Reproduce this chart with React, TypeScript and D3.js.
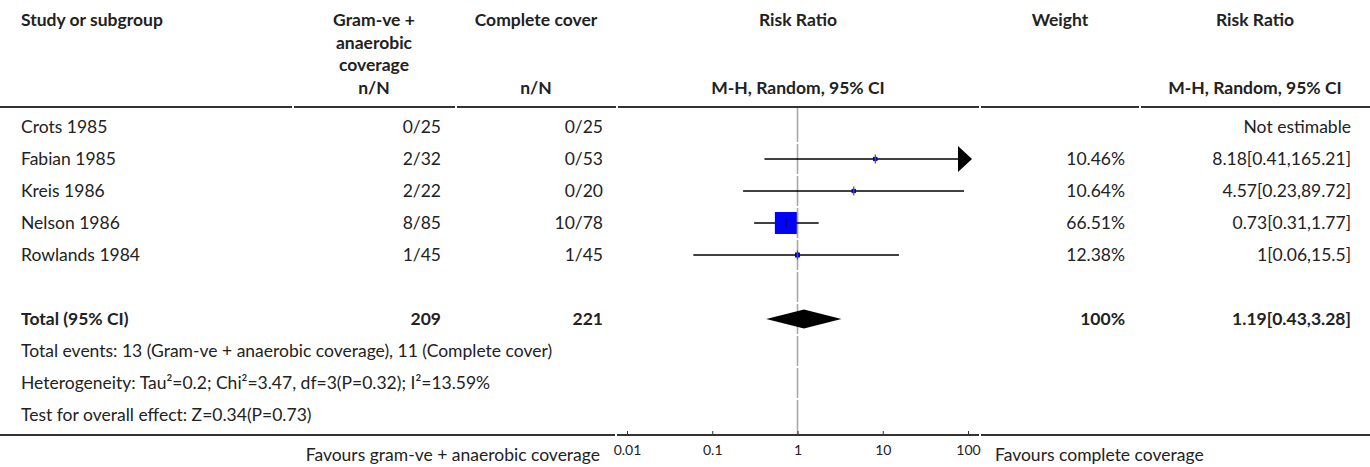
import React, { useEffect, useRef } from 'react';
import * as d3 from 'd3';

// study rows
const studies = ['Crots 1985', 'Fabian 1985', 'Kreis 1986', 'Nelson 1986', 'Rowlands 1984'];
const gramEvents = ['0/25', '2/32', '2/22', '8/85', '1/45'];
const completeEvents = ['0/25', '0/53', '0/20', '10/78', '1/45'];
const riskRatio: (number | null)[] = [null, 8.18, 4.57, 0.73, 1];
const ciLower: (number | null)[] = [null, 0.41, 0.23, 0.31, 0.06];
const ciUpper: (number | null)[] = [null, 165.21, 89.72, 1.77, 15.5];
const weights: (number | null)[] = [null, 10.46, 10.64, 66.51, 12.38];
const rrLabels = ['Not estimable', '8.18[0.41,165.21]', '4.57[0.23,89.72]', '0.73[0.31,1.77]', '1[0.06,15.5]'];

// pooled result
const totalCounts = ['209', '221'];
const totalEffect = [1.19, 0.43, 3.28]; // estimate, lower, upper
const totalWeight = '100%';
const totalLabel = '1.19[0.43,3.28]';

const footnotes = [
  'Total events: 13 (Gram-ve + anaerobic coverage), 11 (Complete cover)',
  'Heterogeneity: Tau²=0.2; Chi²=3.47, df=3(P=0.32); I²=13.59%',
  'Test for overall effect: Z=0.34(P=0.73)',
];

const axisTicks = [0.01, 0.1, 1, 10, 100];
const favourLeft = 'Favours gram-ve + anaerobic coverage';
const favourRight = 'Favours complete coverage';

const FONT = 'Lato, "Noto Sans", sans-serif';

const App: React.FC = () => {
  const svgRef = useRef<SVGSVGElement | null>(null);

  useEffect(() => {
    document.body.style.margin = '0';
    const svg = d3.select(svgRef.current);
    svg.selectAll('*').remove();

    const rowY = (i: number) => 127 + 32 * i;
    const x = d3.scaleLog().domain([0.01, 100]).range([627, 968]);
    const ink = '#222';
    const left = 21;
    const gramRight = 441;
    const compRight = 603;
    const weightRight = 1125;
    const rrRight = 1351;

    const g = svg.append('g').attr('font-family', FONT).attr('font-size', 17.5).attr('fill', ink);

    // header
    const header = g.append('g').attr('font-weight', 'bold');
    header.append('text').attr('x', left).attr('y', 26).text('Study or subgroup');
    ['Gram-ve +', 'anaerobic', 'coverage'].forEach((t, i) => {
      header.append('text').attr('x', 374).attr('y', 26 + 22.5 * i).attr('text-anchor', 'middle').text(t);
    });
    header.append('text').attr('x', 374).attr('y', 94).attr('text-anchor', 'middle').text('n/N');
    header.append('text').attr('x', 536).attr('y', 26).attr('text-anchor', 'middle').text('Complete cover');
    header.append('text').attr('x', 536).attr('y', 94).attr('text-anchor', 'middle').text('n/N');
    header.append('text').attr('x', 798).attr('y', 26).attr('text-anchor', 'middle').text('Risk Ratio');
    header.append('text').attr('x', 798).attr('y', 94).attr('text-anchor', 'middle').text('M-H, Random, 95% CI');
    header.append('text').attr('x', 1060).attr('y', 26).attr('text-anchor', 'middle').text('Weight');
    header.append('text').attr('x', 1255).attr('y', 26).attr('text-anchor', 'middle').text('Risk Ratio');
    header.append('text').attr('x', 1255).attr('y', 94).attr('text-anchor', 'middle').text('M-H, Random, 95% CI');

    const segs = [[0, 292], [294, 455], [457, 616], [618, 979], [981, 1139], [1141, 1370]];
    g.selectAll('.hline')
      .data(segs)
      .enter().append('line')
      .attr('x1', d => d[0]).attr('x2', d => d[1])
      .attr('y1', 107).attr('y2', 107)
      .attr('stroke', '#333').attr('stroke-width', 2);

    // line of no effect, broken at each row
    const nRows = 10;
    g.selectAll('.null')
      .data(d3.range(nRows))
      .enter().append('line')
      .attr('x1', x(1)).attr('x2', x(1))
      .attr('y1', i => (i === 0 ? 108 : rowY(i) - 15))
      .attr('y2', i => (i === nRows - 1 ? 434 : rowY(i) + 15))
      .attr('stroke', '#a8a8a8').attr('stroke-width', 1.6);

    // study rows
    studies.forEach((s, i) => {
      const y = rowY(i);
      g.append('text').attr('x', left).attr('y', y + 6).text(s);
      g.append('text').attr('x', gramRight).attr('y', y + 6).attr('text-anchor', 'end').text(gramEvents[i]);
      g.append('text').attr('x', compRight).attr('y', y + 6).attr('text-anchor', 'end').text(completeEvents[i]);
      const w = weights[i];
      if (w !== null) {
        g.append('text').attr('x', weightRight).attr('y', y + 6).attr('text-anchor', 'end').text(`${w}%`);
      }
      g.append('text').attr('x', rrRight).attr('y', y + 6).attr('text-anchor', 'end').text(rrLabels[i]);

      const est = riskRatio[i];
      const lo = ciLower[i];
      const hi = ciUpper[i];
      if (est === null || lo === null || hi === null || w === null) return;
      const clipped = hi > 100;
      const xEnd = clipped ? 958 : x(hi);
      g.append('line')
        .attr('x1', x(lo)).attr('x2', xEnd)
        .attr('y1', y).attr('y2', y)
        .attr('stroke', '#000').attr('stroke-width', 1.5);
      if (clipped) {
        g.append('path')
          .attr('d', `M958,${y - 13}L972,${y}L958,${y + 13}Z`)
          .attr('fill', '#000');
      }
      const size = Math.max(3, w * 0.33);
      g.append('rect')
        .attr('x', x(est) - size / 2).attr('y', y - size / 2)
        .attr('width', size).attr('height', size)
        .attr('fill', '#0000ff')
        .attr('stroke', size < 6 ? '#000066' : 'none').attr('stroke-width', 0.8);
      g.append('line')
        .attr('x1', x(est)).attr('x2', x(est))
        .attr('y1', y - 4.5).attr('y2', y + 4.5)
        .attr('stroke', size < 6 ? '#555' : '#000').attr('stroke-width', 1.2);
    });

    // total row
    const ty = rowY(6);
    const bold = g.append('g').attr('font-weight', 'bold');
    bold.append('text').attr('x', left).attr('y', ty + 6).text('Total (95% CI)');
    bold.append('text').attr('x', gramRight).attr('y', ty + 6).attr('text-anchor', 'end').text(totalCounts[0]);
    bold.append('text').attr('x', compRight).attr('y', ty + 6).attr('text-anchor', 'end').text(totalCounts[1]);
    bold.append('text').attr('x', weightRight).attr('y', ty + 6).attr('text-anchor', 'end').text(totalWeight);
    bold.append('text').attr('x', rrRight).attr('y', ty + 6).attr('text-anchor', 'end').text(totalLabel);
    const [te, tl, tu] = totalEffect;
    g.append('path')
      .attr('d', `M${x(tl)},${ty}L${x(te)},${ty - 9.5}L${x(tu)},${ty}L${x(te)},${ty + 9.5}Z`)
      .attr('fill', '#000');

    // footnotes
    footnotes.forEach((t, i) => {
      g.append('text').attr('x', left).attr('y', rowY(7 + i) + 6).text(t);
    });

    // bottom rule and axis
    [[0, 615], [981, 1370]].forEach(d => {
      g.append('line').attr('x1', d[0]).attr('x2', d[1]).attr('y1', 435).attr('y2', 435)
        .attr('stroke', '#333').attr('stroke-width', 2);
    });
    g.append('line').attr('x1', 617).attr('x2', 979).attr('y1', 435).attr('y2', 435)
      .attr('stroke', '#333').attr('stroke-width', 2);

    const axis = g.append('g')
      .attr('transform', 'translate(0,435)')
      .call(d3.axisBottom(x).tickValues(axisTicks).tickSizeInner(-4).tickSizeOuter(0).tickPadding(10)
        .tickFormat(d => String(d)));
    axis.select('.domain').remove();
    axis.selectAll('line').attr('stroke', '#333').attr('stroke-width', 1);
    axis.selectAll('text').attr('font-family', FONT).attr('font-size', 14).attr('fill', ink);

    g.append('text').attr('x', 600).attr('y', 461).attr('text-anchor', 'end').text(favourLeft);
    g.append('text').attr('x', 995).attr('y', 461).text(favourRight);
  }, []);

  return <svg ref={svgRef} width={1370} height={467} style={{ display: 'block' }}></svg>;
};

export default App;
